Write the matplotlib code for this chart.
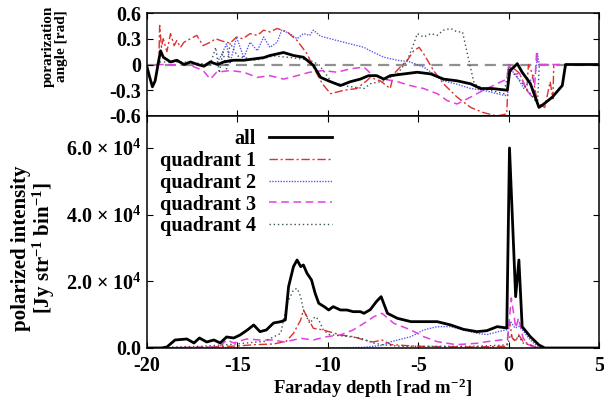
import matplotlib
matplotlib.use("Agg")
import matplotlib.pyplot as plt

plt.rcParams["font.family"] = ["Liberation Serif", "DejaVu Serif"]
plt.rcParams["font.weight"] = "bold"
plt.rcParams["axes.unicode_minus"] = False
plt.rcParams["mathtext.fontset"] = "custom"
plt.rcParams["mathtext.rm"] = "Liberation Serif:bold"
plt.rcParams["mathtext.it"] = "Liberation Serif:bold"
plt.rcParams["mathtext.bf"] = "Liberation Serif:bold"

# ---- polarization angle [rad] vs Faraday depth ----
ang_all_x = [-20, -19.85, -19.7, -19.55, -19.35, -19.25, -19.1, -18.7, -18.35, -17.95,
             -17.6, -17.2, -16.85, -16.5, -16.1, -15.75, -15.2, -14.65, -14.1, -13.55,
             -13.2, -12.45, -11.9, -11.35, -10.8, -10.4, -9.85, -9.3, -8.75, -8.2,
             -7.75, -7.3, -6.9, -6.55, -5.8, -5.05, -4.3, -3.6, -2.85, -2.1,
             -1.55, -0.9, -0.07, 0.07, 0.29, 0.48, 0.75, 1.2, 1.68, 1.95,
             2.42, 2.97, 3.15, 5]
ang_all = [-0.03, -0.15, -0.26, -0.19, 0.05, 0.16, 0.085, 0.03, 0.05, 0.0,
           0.03, 0.0, -0.02, 0.03, 0.0, 0.03, 0.05, 0.05, 0.065, 0.08,
           0.105, 0.14, 0.105, 0.085, -0.01, -0.15, -0.2, -0.245, -0.2, -0.17,
           -0.13, -0.13, -0.17, -0.13, -0.11, -0.09, -0.11, -0.17, -0.19, -0.225,
           -0.28, -0.28, -0.30, -0.07, -0.03, 0.01, -0.09, -0.22, -0.50, -0.46,
           -0.38, -0.245, 0.0, 0.0]

ang_q1_x = [-19.35, -19.3, -19.2, -19.1, -18.9, -18.7, -18.5, -18.35, -18.15, -17.95,
            -17.6, -17.25, -16.9, -16.5, -16.2, -15.8, -15.4, -15.05, -14.7, -14.3,
            -13.9, -13.55, -13.2, -12.8, -12.25, -11.7, -11.15, -10.7, -10.3, -9.85,
            -9.1, -8.4, -7.85, -7.65, -7.1, -6.55, -6.35, -6.0, -5.6, -5.25,
            -4.95, -4.7, -4.15, -3.6, -2.85, -2.1, -1.4, -0.65, -0.1, 0.0,
            0.3, 0.6, 1.0, 1.1, 1.3, 1.6, 2.0, 2.3, 2.45, 2.5]
ang_q1 = [0.0, 0.455, 0.2, 0.3, 0.15, 0.36, 0.22, 0.28, 0.2, 0.26,
          0.3, 0.34, 0.22, 0.26, 0.3, 0.27, 0.25, 0.32, 0.3, 0.36,
          0.34, 0.40, 0.38, 0.42, 0.38, 0.28, 0.125, -0.07, -0.225, -0.34,
          -0.30, -0.28, -0.19, -0.15, -0.19, -0.28, -0.11, -0.03, 0.05, 0.16,
          0.2, 0.125, -0.07, -0.225, -0.38, -0.50, -0.56, -0.60, -0.575, 0.0,
          -0.05, -0.1, -0.3, 0.0, -0.1, -0.45, -0.5, -0.2, -0.4, 0.0]

ang_q2_x = [-16.2, -15.95, -15.6, -15.4, -15.05, -14.65, -14.3, -13.9, -13.55, -13.2,
            -12.8, -12.55, -12.1, -11.7, -11.35, -11.0, -10.8, -10.4, -9.5, -8.75,
            -8.0, -7.65, -6.9, -6.15, -5.45, -4.7, -4.15, -3.6, -2.85, -2.1,
            -1.4, -0.25, -0.05, 0.0, 0.48, 0.85, 1.2, 1.5, 1.6, 1.7, 2.0]
ang_q2 = [0.0, 0.085, 0.24, 0.02, 0.32, 0.08, 0.26, 0.16, 0.32, 0.2,
          0.26, 0.40, 0.36, 0.30, 0.36, 0.34, 0.40, 0.33, 0.28, 0.24,
          0.20, 0.16, 0.085, 0.05, 0.03, -0.03, -0.11, -0.19, -0.23, -0.28,
          -0.30, -0.36, -0.36, -0.02, -0.15, -0.28, -0.19, -0.1, 0.125, 0.0, 0.0]

ang_q3_x = [-19.5, -19.1, -17.6, -16.9, -16.5, -16.15, -15.4, -14.65, -13.9, -13.2,
            -12.45, -11.7, -11.0, -10.25, -9.5, -8.75, -8.0, -7.65, -6.9, -6.15,
            -5.45, -4.7, -3.95, -3.4, -2.85, -2.1, -1.4, -0.65, -0.1, 0.0,
            0.3, 0.6, 1.0, 1.4, 1.55, 1.6, 1.7, 3.0]
ang_q3 = [0.0, 0.0, -0.01, -0.07, -0.17, -0.09, -0.07, -0.09, -0.15, -0.13,
          -0.17, -0.13, -0.09, -0.07, -0.09, -0.05, -0.03, -0.1, -0.17, -0.2,
          -0.245, -0.28, -0.34, -0.42, -0.46, -0.38, -0.30, -0.225, -0.17, 0.0,
          -0.12, -0.1, -0.3, -0.4, 0.15, 0.0, 0.0, 0.0]

ang_q4_x = [-19.3, -18.0, -16.5, -16.2, -16.0, -15.8, -15.6, -15.4, -15.0, -14.0,
            -13.0, -12.0, -11.0, -10.5, -9.8, -9.0, -8.0, -7.65, -6.9, -6.15,
            -5.6, -5.25, -5.05, -4.7, -4.3, -3.95, -3.6, -3.2, -2.85, -2.55,
            -2.4, -2.2, -1.9, -1.4, -0.25, 0.0, 0.5, 1.2, 1.6, 1.7]
ang_q4 = [0.03, 0.03, 0.0, 0.2, -0.1, 0.15, -0.05, 0.25, 0.1, 0.05,
          0.1, 0.08, 0.05, 0.0, -0.2, -0.25, -0.28, -0.225, -0.19, -0.11,
          0.05, 0.24, 0.36, 0.32, 0.36, 0.34, 0.40, 0.42, 0.38, 0.38,
          0.24, 0.05, -0.225, -0.28, -0.34, -0.05, -0.15, -0.34, -0.46, 0.0]

# ---- polarized intensity [Jy/str/bin] vs Faraday depth ----
pi_all_x = [-20, -19.2, -18.9, -18.45, -17.8, -17.4, -17.1, -16.7, -16.3, -15.95,
            -15.6, -15.2, -14.85, -14.45, -14.1, -13.75, -13.4, -13.0, -12.6, -12.35,
            -12.17, -11.9, -11.7, -11.5, -11.35, -11.15, -10.9, -10.7, -10.5, -10.2,
            -9.95, -9.7, -9.3, -8.95, -8.6, -8.2, -8.0, -7.65, -7.3, -7.05,
            -6.7, -6.15, -5.4, -4.7, -3.95, -3.2, -2.5, -1.75, -1.2, -0.63,
            -0.1, 0.05, 0.39, 0.57, 0.75, 1.2, 1.68, 2.0, 5.0]
pi_all = [0, 0, 300, 2400, 2700, 1500, 3000, 1800, 2400, 1500,
          3300, 3000, 3900, 5400, 6900, 4900, 5400, 7500, 7900, 8400,
          18400, 24400, 26400, 24400, 24900, 22400, 20400, 16400, 13400, 12400,
          11400, 12400, 11400, 11400, 10900, 10900, 10400, 11500, 14000, 15400,
          10400, 8900, 7900, 7900, 7900, 6900, 5600, 4900, 5200, 6400,
          6000, 60000, 15400, 26400, 6400, 3400, 900, 0, 0]

pi_q1_x = [-20, -17, -15, -14, -13, -12.3, -11.9, -11.5, -11.35, -11.15,
           -10.8, -10.25, -9.3, -8.6, -8.0, -7.5, -7.0, -6.5, -5.0, -2.0,
           -0.1, 0.05, 0.2, 0.4, 0.55, 0.8, 1.2, 1.6, 5]
pi_q1 = [0, 200, 600, 1000, 1200, 2000, 4400, 8400, 11400, 9400,
         5900, 5400, 3900, 3400, 2400, 1800, 2400, 1000, 500, 300,
         500, 8000, 3000, 2000, 4000, 2000, 1000, 0, 0]

pi_q2_x = [-20, -10, -8, -7, -6.5, -5.4, -4.7, -3.95, -3.2, -2.5,
           -1.75, -1.2, -0.5, -0.05, 0.1, 0.35, 0.6, 0.9, 1.2, 1.7, 5]
pi_q2 = [0, 0, 200, 800, 1900, 3400, 5400, 6400, 6400, 5400,
         4400, 4000, 5000, 5500, 8000, 6000, 6500, 4500, 2400, 0, 0]

pi_q3_x = [-20, -16, -15.6, -15.2, -14.5, -13.75, -13.0, -12.4, -11.5, -10.8,
           -10.05, -9.3, -8.6, -8.0, -7.45, -7.0, -6.35, -5.4, -4.7, -3.95,
           -2.9, -1.75, -1.2, -0.3, -0.05, 0.15, 0.4, 0.55, 0.8, 1.1, 1.5, 5]
pi_q3 = [0, 300, 2400, 1500, 2700, 2400, 2400, 1800, 2900, 2400,
         3400, 3900, 5400, 7400, 9400, 10400, 7400, 5400, 3400, 1900,
         1000, 1400, 1900, 2500, 3000, 15000, 6000, 9000, 3000, 1000, 0, 0]

pi_q4_x = [-20, -18.5, -17, -15.5, -14.5, -13.5, -12.6, -12.25, -11.9, -11.7,
           -11.5, -11.35, -11.0, -10.7, -10.5, -10.25, -9.9, -9.0, -8.2, -7.5,
           -7.0, -6.0, -4.0, -2.0, -0.5, -0.05, 0.1, 0.35, 0.55, 0.8, 1.2, 1.6, 5]
pi_q4 = [0, 300, 500, 1000, 1500, 2000, 4400, 13400, 17400, 17900,
         15400, 11400, 7400, 9400, 8400, 5400, 4000, 3500, 3000, 1500,
         1000, 500, 500, 500, 800, 1000, 4000, 2000, 3500, 1500, 800, 0, 0]

labels = ["all", "quadrant 1", "quadrant 2", "quadrant 3", "quadrant 4"]
styles = [
    dict(color="black", lw=2.0, ls="-"),
    dict(color="#dd3030", lw=1.0, ls=(0, (6, 2, 1.5, 2))),
    dict(color="#5a5af0", lw=1.0, ls=(0, (1, 1))),
    dict(color="#e040e0", lw=1.1, ls=(0, (5, 3))),
    dict(color="#3c5454", lw=1.0, ls=(0, (1, 2))),
]

fig = plt.figure(figsize=(6.04, 4.07), dpi=100)
ax_top = fig.add_axes([0.2434, 0.715, 0.7483, 0.253])
ax_bot = fig.add_axes([0.2434, 0.145, 0.7483, 0.570], sharex=ax_top)

ax_top.axhline(0, color="#909090", lw=1.6, ls=(0, (5, 3)), zorder=1)
top_series = [(ang_q1_x, ang_q1), (ang_q2_x, ang_q2), (ang_q3_x, ang_q3),
              (ang_q4_x, ang_q4), (ang_all_x, ang_all)]
top_styles = styles[1:] + styles[:1]
for (xs, ys), st in zip(top_series, top_styles):
    ax_top.plot(xs, ys, **st)

bot_series = [(pi_all_x, pi_all), (pi_q1_x, pi_q1), (pi_q2_x, pi_q2),
              (pi_q3_x, pi_q3), (pi_q4_x, pi_q4)]
handles = []
for (xs, ys), st, lab in zip(bot_series, styles, labels):
    h, = ax_bot.plot(xs, ys, label=lab, zorder=3 if lab == "all" else 2, **st)
    handles.append(h)

ax_top.set_ylim(-0.6, 0.6)
ax_top.set_yticks([0.6, 0.3, 0, -0.3, -0.6])
ax_top.set_yticklabels(["0.6", "0.3", "0", "-0.3", "-0.6"])
ax_top.tick_params(labelbottom=False)
ax_top.set_ylabel("porarization\nangle [rad]", fontsize=11, fontweight="bold",
                  linespacing=1.05)
ax_top.yaxis.set_label_coords(-0.175, 0.68)

ax_bot.set_xlim(-20, 5)
ax_bot.set_xticks([-20, -15, -10, -5, 0, 5])
ax_bot.set_xticklabels(["-20", "-15", "-10", "-5", "0", "5"])
ax_bot.set_ylim(0, 69600)
ax_bot.set_yticks([0, 20000, 40000, 60000])
ax_bot.set_yticklabels(["0.0", "2.0 × 10$^{4}$", "4.0 × 10$^{4}$",
                        "6.0 × 10$^{4}$"])
ax_bot.set_xlabel(r"Faraday depth [rad m$^{-2}$]", fontsize=13.5,
                  fontweight="bold", labelpad=0)
ax_bot.set_ylabel("polarized intensity\n" + r"[Jy str$^{-1}$ bin$^{-1}$]",
                  fontsize=15, fontweight="bold", linespacing=1.0)
ax_bot.yaxis.set_label_coords(-0.199, 0.43)

for ax in (ax_top, ax_bot):
    ax.tick_params(direction="in", top=True, right=True, length=4, width=0.8,
                   labelsize=14.5, pad=4)
    for lbl in ax.get_xticklabels() + ax.get_yticklabels():
        lbl.set_fontweight("bold")
    for sp in ax.spines.values():
        sp.set_linewidth(1.1)
ax_bot.tick_params(axis="x", pad=6)

leg = ax_bot.legend(handles=handles, loc="upper left", bbox_to_anchor=(0.0, 1.0),
                    frameon=False, markerfirst=False, handlelength=3.1,
                    handletextpad=0.65, labelspacing=0.09, borderaxespad=0.25,
                    prop=dict(size=14.5, weight="bold"))
for t in leg.get_texts():
    t.set_ha("right")
leg._legend_box.align = "right"

fig.savefig("out.png", dpi=100)
